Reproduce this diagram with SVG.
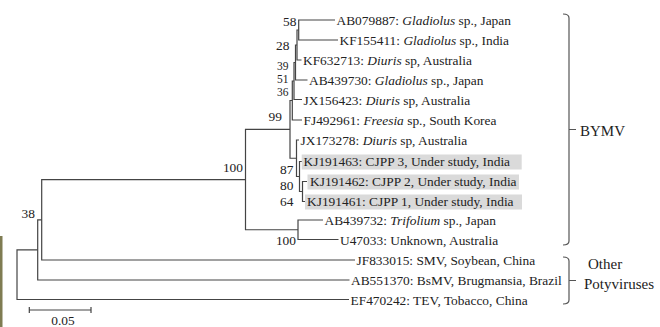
<svg xmlns="http://www.w3.org/2000/svg" width="660" height="327" viewBox="0 0 660 327">
<style>
text{font-family:"Liberation Serif","Times New Roman",serif;fill:#222}
.lf{font-size:13.4px}
.bs{font-size:13.4px;text-anchor:end}
.sm{font-size:11.5px}
.cl{font-size:15px}
.it{font-style:italic}
.br{fill:none;stroke:#444;stroke-width:1.2}
.bk{fill:none;stroke:#555;stroke-width:1.2}
.hl{fill:#dadada}
</style>
<rect width="660" height="327" fill="#ffffff"/>
<rect x="0" y="236" width="2.5" height="91" fill="#7f7c52"/>
<g id="connectors">
<path class="br" d="M37.7 249.9H17V299.5H349"/>
<path class="br" d="M41.7 219.8H37.7V280H349.5"/>
<path class="br" d="M245.5 179.6H41.7V260H355"/>
<path class="br" d="M290 129.4H245.5V229.75H298"/>
<path class="br" d="M323 220H298V239.5H338.5"/>
<path class="br" d="M292.3 100.5H290V158.25H296.5"/>
<path class="br" d="M294 81H292.3V120H302"/>
<path class="br" d="M295.5 62.5H294V99.5H302"/>
<path class="br" d="M297 45H295.5V80H307.5"/>
<path class="br" d="M298.7 30H297V60H301.5"/>
<path class="br" d="M335 20H298.7V40H338"/>
<path class="br" d="M299 140H296.5V176.5H299.5"/>
<path class="br" d="M302 161.5H299.5V191.5H302.5"/>
<path class="br" d="M307 181.5H302.5V201.5H305"/>
</g>
<g id="support">
<text class="bs" x="296.5" y="26">58</text>
<text class="bs" x="289.5" y="49.5">28</text>
<text class="bs sm" x="288.5" y="69.5">39</text>
<text class="bs sm" x="288.5" y="82.5">51</text>
<text class="bs sm" x="288.5" y="95.5">36</text>
<text class="bs" x="282" y="120.5">99</text>
<text class="bs" x="293.5" y="174">87</text>
<text class="bs" x="293.5" y="190">80</text>
<text class="bs" x="293.5" y="206">64</text>
<text class="bs" x="243" y="172">100</text>
<text class="bs" x="296" y="245">100</text>
<text class="bs" x="35" y="218">38</text>
</g>
<g id="AB079887"><text class="lf" x="336.5" y="25">AB079887: <tspan class="it">Gladiolus</tspan> sp., Japan</text></g>
<g id="KF155411"><text class="lf" x="339.5" y="45">KF155411: <tspan class="it">Gladiolus</tspan> sp., India</text></g>
<g id="KF632713"><text class="lf" x="303" y="65">KF632713: <tspan class="it">Diuris</tspan> sp, Australia</text></g>
<g id="AB439730"><text class="lf" x="309" y="85">AB439730: <tspan class="it">Gladiolus</tspan> sp., Japan</text></g>
<g id="JX156423"><text class="lf" x="303.5" y="104.5">JX156423: <tspan class="it">Diuris</tspan> sp, Australia</text></g>
<g id="FJ492961"><text class="lf" x="303.5" y="125">FJ492961: <tspan class="it">Freesia</tspan> sp., South Korea</text></g>
<g id="JX173278"><text class="lf" x="300.5" y="145">JX173278: <tspan class="it">Diuris</tspan> sp, Australia</text></g>
<g id="KJ191463"><rect class="hl" x="301.7" y="154.5" width="220" height="15"/><text class="lf" x="303.5" y="166.3">KJ191463: CJPP 3, Under study, India</text></g>
<g id="KJ191462"><rect class="hl" x="307.5" y="174.5" width="211.5" height="15"/><text class="lf" x="310" y="186.3">KJ191462: CJPP 2, Under study, India</text></g>
<g id="KJ191461"><rect class="hl" x="305" y="194.5" width="217" height="15"/><text class="lf" x="307" y="206.3">KJ191461: CJPP 1, Under study, India</text></g>
<g id="AB439732"><text class="lf" x="324.5" y="225">AB439732: <tspan class="it">Trifolium</tspan> sp., Japan</text></g>
<g id="U47033"><text class="lf" x="340" y="244.5">U47033: Unknown, Australia</text></g>
<g id="JF833015"><text class="lf" x="356.5" y="265">JF833015: SMV, Soybean, China</text></g>
<g id="AB551370"><text class="lf" x="351" y="285">AB551370: BsMV, Brugmansia, Brazil</text></g>
<g id="EF470242"><text class="lf" x="350.5" y="304.5">EF470242: TEV, Tobacco, China</text></g>
<g id="BYMV">
<path class="bk" d="M563 14Q569 14 569 18V241Q569 245 563 245M569 129.5H576"/>
<text class="cl" x="580" y="135.5">BYMV</text>
</g>
<g id="Other">
<path class="bk" d="M563 257Q569 257 569 261V300Q569 304 563 304M569 280.5H576"/>
<text class="cl" x="588" y="269">Other</text>
<text class="cl" x="584" y="288.5">Potyviruses</text>
</g>
<g id="scale">
<path class="br" d="M29.3 310H91M29.3 307V313M91 307V313"/>
<text class="lf" x="63" y="325" text-anchor="middle">0.05</text>
</g>
</svg>
